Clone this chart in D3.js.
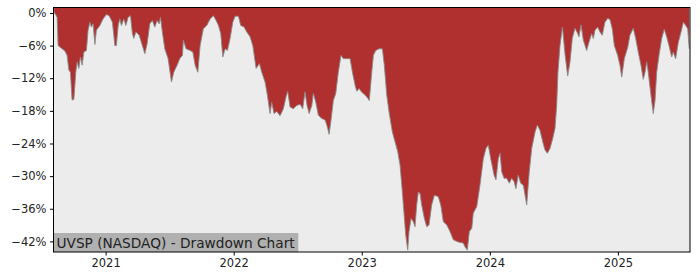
<!DOCTYPE html>
<html lang="en">
<head>
  <meta charset="UTF-8">
  <title>UVSP Drawdown</title>
  <style>
    body, html {
      margin: 0;
      padding: 0;
      background: #fff;
      font-family: 'DejaVu Sans', sans-serif;
    }
  </style>
</head>
<body>
  <div id="container"></div>
  <script src="https://d3js.org/d3.v7.min.js"></script>
  <script>
    // -------- DATA (decimal year, drawdown %) ------------
    const years = [
      2020.598, 2020.603, 2020.621, 2020.629, 2020.655, 2020.682, 2020.699, 2020.713, 2020.725, 2020.738,
      2020.752, 2020.767, 2020.778, 2020.791, 2020.803, 2020.817, 2020.830, 2020.850, 2020.863, 2020.877,
      2020.889, 2020.902, 2020.916, 2020.928, 2020.955, 2020.980, 2021.006, 2021.027, 2021.053, 2021.072,
      2021.084, 2021.098, 2021.111, 2021.123, 2021.142, 2021.158, 2021.176, 2021.194, 2021.209, 2021.220,
      2021.236, 2021.262, 2021.279, 2021.306, 2021.324, 2021.345, 2021.365, 2021.384, 2021.402, 2021.418,
      2021.428, 2021.443, 2021.462, 2021.488, 2021.514, 2021.532, 2021.558, 2021.579, 2021.600, 2021.607,
      2021.628, 2021.660, 2021.681, 2021.699, 2021.720, 2021.738, 2021.763, 2021.790, 2021.816, 2021.842,
      2021.863, 2021.881, 2021.899, 2021.915, 2021.933, 2021.951, 2021.972, 2021.993, 2022.011, 2022.037,
      2022.055, 2022.081, 2022.102, 2022.128, 2022.149, 2022.175, 2022.201, 2022.219, 2022.245, 2022.263,
      2022.284, 2022.297, 2022.315, 2022.336, 2022.362, 2022.388, 2022.409, 2022.422, 2022.440, 2022.466,
      2022.493, 2022.518, 2022.539, 2022.557, 2022.573, 2022.589, 2022.610, 2022.622, 2022.641, 2022.661,
      2022.688, 2022.714, 2022.727, 2022.745, 2022.760, 2022.778, 2022.797, 2022.817, 2022.838, 2022.856,
      2022.883, 2022.909, 2022.927, 2022.948, 2022.961, 2022.979, 2023.000, 2023.026, 2023.047, 2023.059,
      2023.078, 2023.091, 2023.109, 2023.135, 2023.161, 2023.176, 2023.195, 2023.213, 2023.239, 2023.260,
      2023.281, 2023.299, 2023.317, 2023.333, 2023.343, 2023.359, 2023.369, 2023.385, 2023.403, 2023.416,
      2023.429, 2023.442, 2023.455, 2023.468, 2023.489, 2023.507, 2023.525, 2023.546, 2023.567, 2023.598,
      2023.617, 2023.637, 2023.664, 2023.689, 2023.715, 2023.742, 2023.767, 2023.793, 2023.806, 2023.824,
      2023.840, 2023.859, 2023.871, 2023.898, 2023.923, 2023.949, 2023.970, 2023.988, 2024.007, 2024.033,
      2024.048, 2024.066, 2024.080, 2024.093, 2024.111, 2024.132, 2024.152, 2024.171, 2024.189, 2024.204,
      2024.222, 2024.241, 2024.262, 2024.288, 2024.308, 2024.327, 2024.353, 2024.371, 2024.392, 2024.413,
      2024.431, 2024.449, 2024.470, 2024.491, 2024.509, 2024.522, 2024.532, 2024.548, 2024.567, 2024.588,
      2024.608, 2024.626, 2024.644, 2024.665, 2024.686, 2024.696, 2024.712, 2024.730, 2024.756, 2024.774,
      2024.795, 2024.808, 2024.821, 2024.842, 2024.860, 2024.878, 2024.899, 2024.920, 2024.938, 2024.956,
      2024.972, 2024.998, 2025.016, 2025.030, 2025.050, 2025.077, 2025.094, 2025.120, 2025.139, 2025.159,
      2025.180, 2025.198, 2025.212, 2025.225, 2025.237, 2025.258, 2025.276, 2025.290, 2025.303, 2025.321,
      2025.342, 2025.362, 2025.381, 2025.399, 2025.420, 2025.432, 2025.451, 2025.472, 2025.493, 2025.511,
      2025.529, 2025.545, 2025.557
    ]
    const drawdown = [
      0, 0, -0.8, -6, -6.5, -7, -7.8, -10.5, -10.9, -16,
      -15.9, -10.9, -9, -10.2, -8.1, -9.6, -7.2, -6.9, -3.2, -1.7,
      -2.6, -2, -5.8, -3.2, -2.3, -1.1, -0.3, -0.5, -1.7, -6,
      -6, -2.3, -1.1, -2.3, -1.1, -2.3, -0.8, -0.5, -3.8, -4.7,
      -3.5, -4.1, -5.4, -7.5, -5.7, -2, -1.4, -2.6, -1.4, -2,
      -0.8, -3.5, -6.6, -8.4, -12.7, -10.9, -9.6, -8.4, -7.8, -5,
      -6.6, -6.9, -7.2, -9.6, -10.9, -6, -2.9, -2.3, -1.1, -0.5,
      -1.4, -2.3, -3.8, -8.1, -6.6, -6.9, -4.7, -1.7, -0.6, -0.6,
      -2.3, -2.6, -3.5, -4.4, -6, -10.2, -9.3, -10.9, -12.7, -15.1,
      -18.5, -16.4, -18.5, -18.1, -18.9, -17.6, -15.4, -14.4, -17.3, -17.6,
      -17, -16.8, -17.6, -14.5, -17, -18.5, -17, -14.8, -16.4, -18.8,
      -19.4, -19.7, -20.6, -22.3, -19.7, -16.1, -14.8, -10.9, -7.8, -8.4,
      -8.4, -8.4, -10.9, -13.3, -14.4, -13.9, -14.6, -15.1, -15.7, -16.1,
      -10.9, -7.8, -6.9, -6.6, -6.6, -9.6, -15.1, -18.2, -21.9, -23.7,
      -25.5, -28, -32.9, -37.8, -40.8, -43.6, -40.2, -37.8, -38.4, -39.3,
      -35.3, -32.9, -33.2, -35.3, -37.8, -39.3, -39, -35.3, -33.5, -33.8,
      -35.3, -38.4, -39, -40.2, -41.7, -42, -42.2, -42.3, -43, -43.6,
      -40.2, -39.6, -36.8, -35.6, -31.7, -26.8, -24.9, -24.3, -26.8, -29.8,
      -30.7, -26.8, -25.8, -29.2, -30.4, -30.4, -31.3, -30.4, -31, -32.3,
      -29.8, -31.3, -31.7, -35.3, -29.2, -24.9, -21.9, -20.6, -21.6, -23.7,
      -25.2, -25.8, -24.9, -23.1, -21.2, -17, -10.9, -6, -2.6, -7.8,
      -11.6, -9, -4.7, -2.8, -3.8, -4.4, -2.2, -5, -6.9, -5.4,
      -3.8, -4.7, -3.2, -2.6, -3.5, -4.1, -1.7, -1, -1.2, -2.9,
      -6, -7.8, -9.6, -11.8, -8.4, -6.3, -4.1, -2.8, -4.7, -7.2,
      -9.6, -12.2, -10.9, -9, -10.9, -15.1, -18.5, -16.1, -10.9, -7.8,
      -4.7, -3, -4.4, -6, -8.1, -7.2, -8.4, -5.4, -3.5, -1.7,
      -2.3, -2.9, -6.6
    ]
    const yearTicks = [2021, 2022, 2023, 2024, 2025]
    const pctTicks = [0, -6, -12, -18, -24, -30, -36, -42]
    const chartTitle = 'UVSP (NASDAQ) - Drawdown Chart'

    const data = years.map((t, i) => ({ t, v: drawdown[i] }))

    // -------- LAYOUT ------------
    const W = 700, H = 280
    const margin = { top: 7.5, right: 10, bottom: 28, left: 53.5 }
    const width = 690 - margin.left
    const height = 252 - margin.top

    const svg = d3.select('#container')
      .append('svg')
      .attr('width', W)
      .attr('height', H)

    const g = svg.append('g')
      .attr('transform', `translate(${margin.left},${margin.top})`)

    // -------- SCALES ------------
    const xScale = d3.scaleLinear()
      .domain([2020.593, 2025.563])
      .range([0, width])

    const yScale = d3.scaleLinear()
      .domain([-43.95, 1.0])
      .range([height, 0])

    // background
    g.append('rect')
      .attr('width', width)
      .attr('height', height)
      .attr('fill', '#ececec')

    // -------- DRAW ------------
    const area = d3.area()
      .x(d => xScale(d.t))
      .y0(0)
      .y1(d => yScale(d.v))

    const line = d3.line()
      .x(d => xScale(d.t))
      .y(d => yScale(d.v))

    const clip = g.append('clipPath').attr('id', 'clip')
    clip.append('rect').attr('width', width).attr('height', height)

    const plot = g.append('g').attr('clip-path', 'url(#clip)')

    plot.append('path')
      .datum(data)
      .attr('d', area)
      .attr('fill', '#b03030')

    plot.append('path')
      .datum(data)
      .attr('d', line)
      .attr('fill', 'none')
      .attr('stroke', '#8a8a8a')
      .attr('stroke-width', 0.9)

    // title box
    const label = g.append('g')
    const labelText = label.append('text')
      .attr('x', 3)
      .attr('y', height - 4.5)
      .style('font-size', '13.7px')
      .attr('fill', '#222')
      .text(chartTitle)
    const bb = labelText.node().getBBox()
    label.insert('rect', 'text')
      .attr('x', 0)
      .attr('y', height - 19)
      .attr('width', bb.width + 6)
      .attr('height', 19)
      .attr('fill', '#b0b0b0')

    // -------- AXES --------------
    const fmtPct = d => (d < 0 ? '\u2212' + Math.abs(d) : d) + '%'

    const leftAxis = d3.axisLeft(yScale)
      .tickValues(pctTicks)
      .tickFormat(fmtPct)
      .tickSize(3.5)
      .tickPadding(3.5)

    const bottomAxis = d3.axisBottom(xScale)
      .tickValues(yearTicks)
      .tickFormat(d3.format('d'))
      .tickSize(3.5)
      .tickPadding(3.5)

    g.append('g')
      .call(leftAxis)
      .call(a => a.select('.domain').remove())
      .selectAll('text')
      .style('font-size', '11.5px')
      .style('font-family', 'DejaVu Sans')
      .attr('fill', '#222')

    g.append('g')
      .attr('transform', `translate(0,${height})`)
      .call(bottomAxis)
      .call(a => a.select('.domain').remove())
      .selectAll('text')
      .style('font-size', '11.5px')
      .style('font-family', 'DejaVu Sans')
      .attr('fill', '#222')

    // frame
    g.append('rect')
      .attr('width', width)
      .attr('height', height)
      .attr('fill', 'none')
      .attr('stroke', '#000')
      .attr('stroke-width', 1)
  </script>
</body>
</html>
